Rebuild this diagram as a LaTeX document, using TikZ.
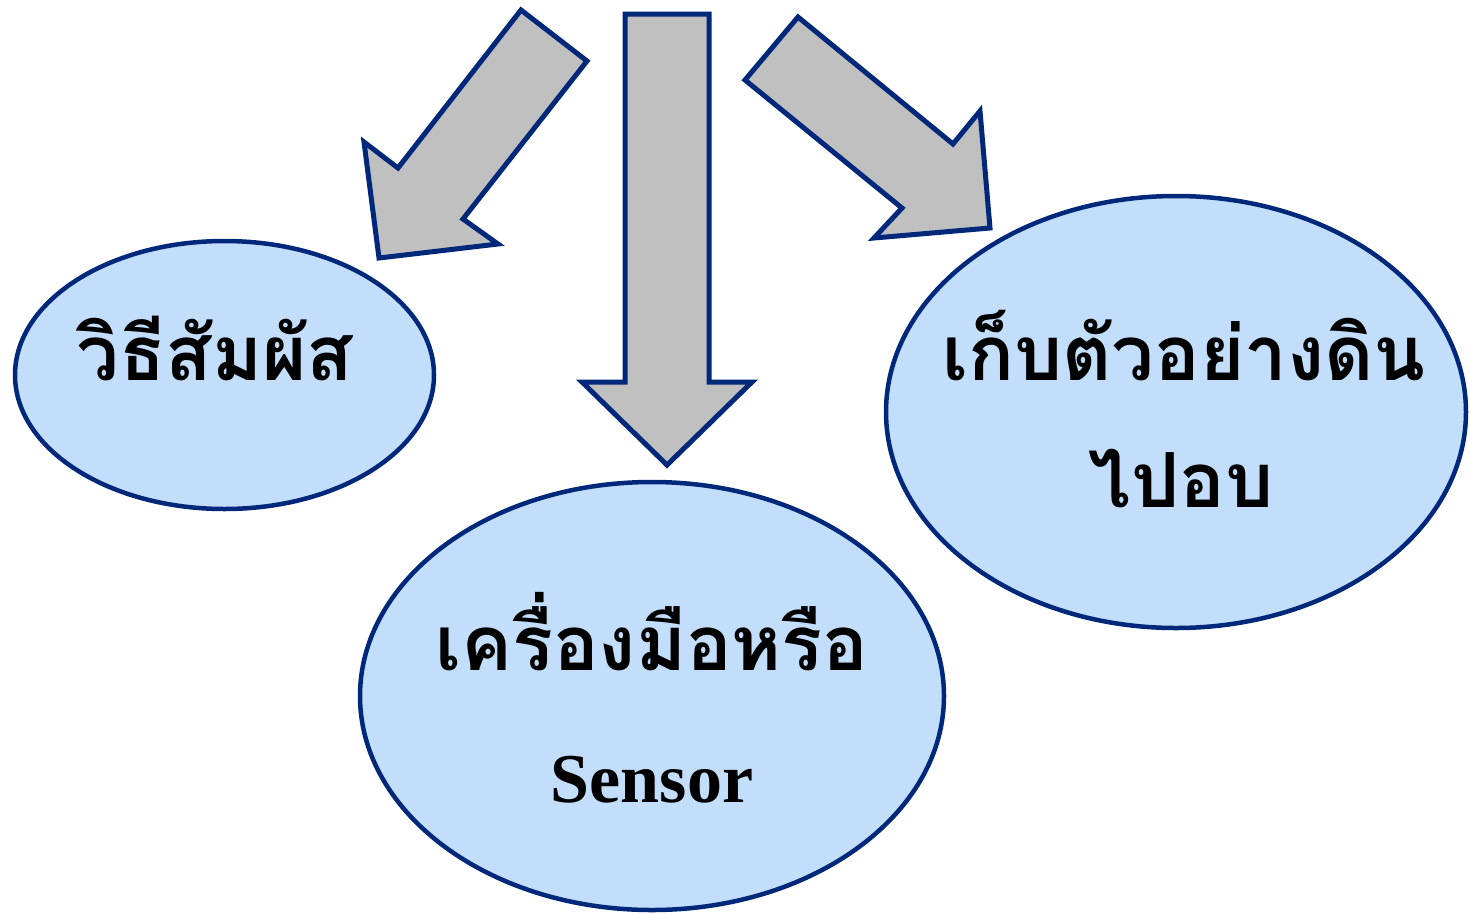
\documentclass[tikz,border=0pt]{standalone}
\usepackage{fontspec}
\setmainfont{Liberation Serif}
\newfontfamily\thaifont[Script=Thai]{Loma}
\usetikzlibrary{shapes.geometric}
\definecolor{navy}{HTML}{00287A}
\definecolor{arrowgray}{HTML}{C0C0C0}
\definecolor{bubble}{HTML}{C3DEFB}
\tikzset{
  bubblebox/.style={ellipse, draw=navy, line width=4.5pt, fill=bubble, inner sep=0pt},
  blockarrow/.style={draw=navy, line width=5pt, fill=arrowgray, line join=miter},
  thaitext/.style={font=\thaifont\bfseries\fontsize{76}{128}\selectfont, align=center, inner sep=0pt, anchor=base},
  entext/.style={font=\bfseries\fontsize{70}{80}\selectfont, inner sep=0pt, anchor=base}
}
\begin{document}
\begin{tikzpicture}[x=1pt,y=-1pt]
\useasboundingbox (0,0) rectangle (1470,914);
% ellipses
\node[bubblebox, minimum width=419pt, minimum height=268pt] (left) at (224.5,375) {};
\node[bubblebox, minimum width=584pt, minimum height=428pt] (bottom) at (652,696) {};
\node[bubblebox, minimum width=580pt, minimum height=432pt] (right) at (1176,412) {};
% arrows
\draw[blockarrow] (521,10) -- (587,61) -- (463,219) -- (498,244) -- (379,258) -- (364,142) -- (398,168) -- cycle;
\draw[blockarrow] (625,14) -- (709,14) -- (709,382) -- (752,382) -- (667,465) -- (582,382) -- (625,382) -- cycle;
\draw[blockarrow] (798,17) -- (953,144) -- (980,111) -- (990,228) -- (874,238) -- (902,208) -- (745,80) -- cycle;
% texts
\node[thaitext] (lefttext) at (215,380) {วิธีสัมผัส};
\node[thaitext] (bottomtext) at (652,670) {เครื่องมือหรือ};
\node[entext] (sensor) at (652,802) {Sensor};
\node[thaitext] (righttext1) at (1184,380) {เก็บตัวอย่างดิน};
\node[thaitext] (righttext2) at (1181,507) {ไปอบ};
\end{tikzpicture}
\end{document}
